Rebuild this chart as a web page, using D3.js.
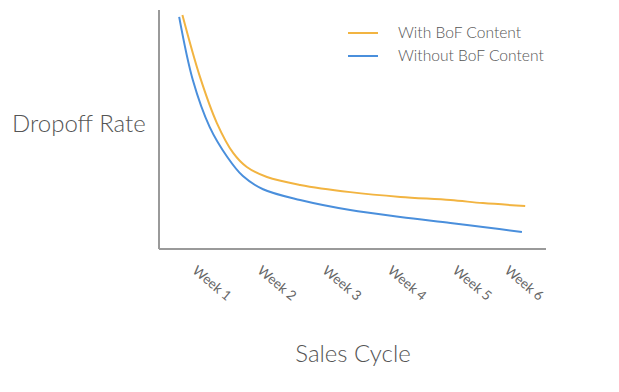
<!DOCTYPE html>
<html>
<head>
<meta charset="utf-8">
<script src="https://cdn.jsdelivr.net/npm/d3@7"></script>
<style>
  body { margin: 0; background: #fff; }
  svg text { font-family: Lato, "Open Sans", sans-serif; fill: #555; }
</style>
</head>
<body>
<svg id="chart" width="619" height="392"></svg>
<script>
// x in weeks, y in % dropoff
const weekLabels = ["Week 1", "Week 2", "Week 3", "Week 4", "Week 5", "Week 6"];
const weekTicks = [1, 2, 3, 4, 5, 5.8];

const withWeeks = [0.86, 1.13, 1.39, 1.64, 1.85, 2.16, 2.67, 3.44, 4.21, 4.98, 5.48, 6.13];
const withVals = [97.9, 72.0, 52.7, 40.2, 34.3, 30.1, 26.8, 23.8, 21.8, 20.5, 19.2, 18.0];

const withoutWeeks = [0.81, 1.02, 1.28, 1.55, 1.79, 2.10, 2.67, 3.44, 4.21, 4.98, 5.48, 6.08];
const withoutVals = [97.1, 70.7, 51.0, 38.5, 30.5, 25.0, 20.5, 16.3, 13.4, 10.9, 9.2, 7.1];

const seriesNames = ["With BoF Content", "Without BoF Content"];
const colors = ["#f2b441", "#4a8fdc"];

const svg = d3.select("#chart");

const xScale = d3.scaleLinear().domain([0.5, 6.45]).range([159, 546]);
const yScale = d3.scaleLinear().domain([0, 100]).range([249, 10]);

const series = [
  withWeeks.map((w, i) => ({ x: w, y: withVals[i] })),
  withoutWeeks.map((w, i) => ({ x: w, y: withoutVals[i] }))
];

const line = d3.line()
  .x(d => xScale(d.x))
  .y(d => yScale(d.y))
  .curve(d3.curveCatmullRom.alpha(0.5));

// axes (plain lines, no ticks)
svg.append("line")
  .attr("x1", xScale.range()[0]).attr("x2", xScale.range()[0])
  .attr("y1", yScale.range()[0]).attr("y2", yScale.range()[1])
  .attr("stroke", "#9a9a9a").attr("stroke-width", 2);
svg.append("line")
  .attr("x1", xScale.range()[0]).attr("x2", xScale.range()[1])
  .attr("y1", yScale.range()[0]).attr("y2", yScale.range()[0])
  .attr("stroke", "#9a9a9a").attr("stroke-width", 2);

// week labels
svg.selectAll(".wk")
  .data(weekLabels)
  .enter()
  .append("text")
  .attr("class", "wk")
  .attr("transform", (d, i) => `translate(${xScale(weekTicks[i])},${yScale(0) + 23}) rotate(40)`)
  .style("font-size", "13.5px")
  .style("fill", "#666")
  .text(d => d);

// lines
svg.selectAll(".series")
  .data(series)
  .enter()
  .append("path")
  .attr("class", "series")
  .attr("d", line)
  .attr("fill", "none")
  .attr("stroke", (d, i) => colors[i])
  .attr("stroke-width", 2);

// legend
const leg = svg.append("g").attr("transform", "translate(348,33)");
seriesNames.forEach((name, i) => {
  leg.append("line")
    .attr("x1", 0).attr("x2", 30)
    .attr("y1", i * 23).attr("y2", i * 23)
    .attr("stroke", colors[i]).attr("stroke-width", 2);
  leg.append("text")
    .attr("x", 50).attr("y", i * 23)
    .attr("dy", "0.35em")
    .style("font-size", "15.6px")
    .style("font-weight", 300)
    .text(name);
});

// axis titles
svg.append("text")
  .attr("x", 12).attr("y", 132)
  .style("font-size", "24px")
  .style("font-weight", 300)
  .text("Dropoff Rate");

svg.append("text")
  .attr("x", 353).attr("y", 362)
  .attr("text-anchor", "middle")
  .style("font-size", "24px")
  .style("font-weight", 300)
  .text("Sales Cycle");
</script>
</body>
</html>
